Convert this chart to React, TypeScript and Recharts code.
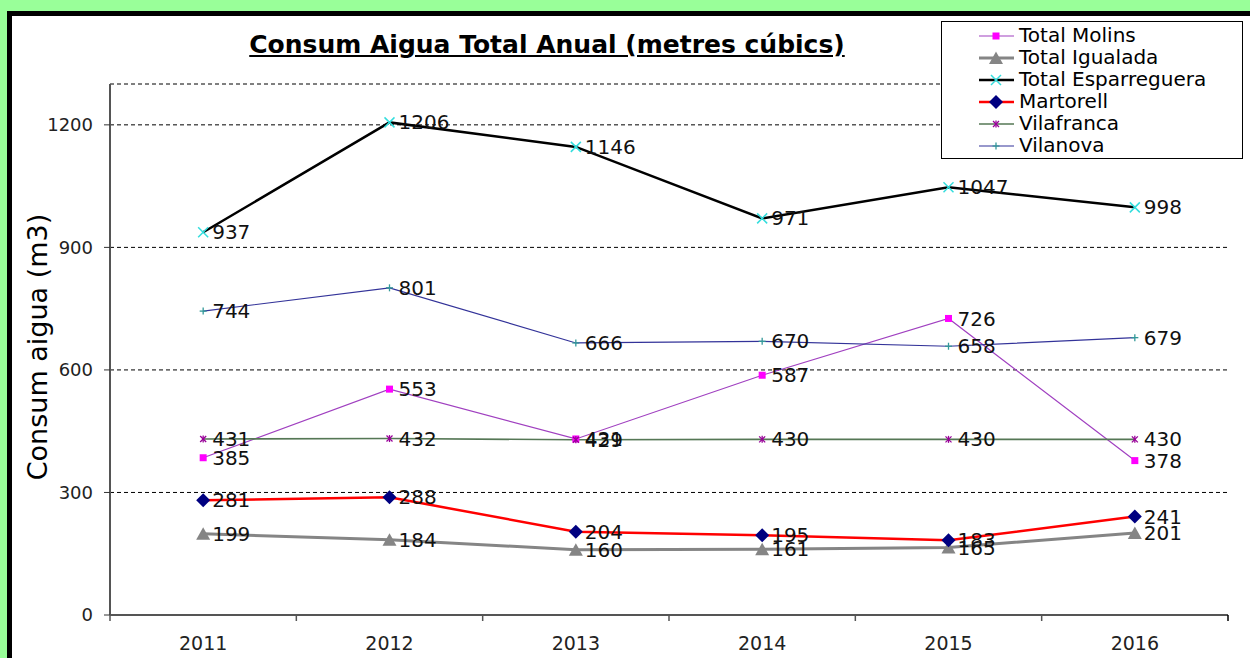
import React from "react";
import {
  LineChart, Line, XAxis, YAxis, CartesianGrid, LabelList, Legend,
} from "recharts";

const YEARS = ["2011", "2012", "2013", "2014", "2015", "2016"];
const MOLINS = [385, 553, 431, 587, 726, 378];
const IGUALADA = [199, 184, 160, 161, 165, 201];
const ESPARREGUERA = [937, 1206, 1146, 971, 1047, 998];
const MARTORELL = [281, 288, 204, 195, 183, 241];
const VILAFRANCA = [431, 432, 429, 430, 430, 430];
const VILANOVA = [744, 801, 666, 670, 658, 679];
const Y_TICKS = [0, 300, 600, 900, 1200];

const FONT = "'DejaVu Sans', Verdana, sans-serif";

// plot box in page pixels
const PLOT_L = 110;
const PLOT_R = 1228;
const PLOT_T = 84;
const PLOT_B = 615;
const BAND = (PLOT_R - PLOT_L) / YEARS.length;

type MarkerKind = "square" | "triangle" | "cross" | "diamond" | "star" | "plus";

const SERIES: { key: string; name: string; values: number[]; color: string; width: number; marker: MarkerKind; markerColor: string }[] = [
  { key: "molins", name: "Total Molins", values: MOLINS, color: "#A040C0", width: 1.2, marker: "square", markerColor: "#FF00FF" },
  { key: "igualada", name: "Total Igualada", values: IGUALADA, color: "#858585", width: 3, marker: "triangle", markerColor: "#858585" },
  { key: "esparreguera", name: "Total Esparreguera", values: ESPARREGUERA, color: "#000000", width: 2.5, marker: "cross", markerColor: "#33DDDD" },
  { key: "martorell", name: "Martorell", values: MARTORELL, color: "#FF0000", width: 2.5, marker: "diamond", markerColor: "#000080" },
  { key: "vilafranca", name: "Vilafranca", values: VILAFRANCA, color: "#557755", width: 1.6, marker: "star", markerColor: "#990099" },
  { key: "vilanova", name: "Vilanova", values: VILANOVA, color: "#333399", width: 1.2, marker: "plus", markerColor: "#339999" },
];

const data = YEARS.map((year, i) => {
  const row: Record<string, any> = { year };
  SERIES.forEach((s) => { row[s.key] = s.values[i]; });
  return row;
});

function Marker({ kind, cx, cy, color }: { kind: MarkerKind; cx: number; cy: number; color: string }) {
  if (cx == null || cy == null) return null;
  switch (kind) {
    case "square":
      return <rect x={cx - 3.5} y={cy - 3.5} width={7} height={7} fill={color} />;
    case "triangle":
      return <polygon points={`${cx},${cy - 6.5} ${cx + 7},${cy + 6} ${cx - 7},${cy + 6}`} fill={color} />;
    case "cross":
      return (
        <g stroke={color} strokeWidth={1.5}>
          <line x1={cx - 5} y1={cy - 5} x2={cx + 5} y2={cy + 5} />
          <line x1={cx - 5} y1={cy + 5} x2={cx + 5} y2={cy - 5} />
        </g>
      );
    case "diamond":
      return <polygon points={`${cx},${cy - 7} ${cx + 7},${cy} ${cx},${cy + 7} ${cx - 7},${cy}`} fill={color} />;
    case "star":
      return (
        <g stroke={color} strokeWidth={1.3}>
          <line x1={cx - 3} y1={cy - 3} x2={cx + 3} y2={cy + 3} />
          <line x1={cx - 3} y1={cy + 3} x2={cx + 3} y2={cy - 3} />
          <line x1={cx} y1={cy - 3.5} x2={cx} y2={cy + 3.5} />
        </g>
      );
    case "plus":
      return (
        <g stroke={color} strokeWidth={1.3}>
          <line x1={cx - 3.5} y1={cy} x2={cx + 3.5} y2={cy} />
          <line x1={cx} y1={cy - 3.5} x2={cx} y2={cy + 3.5} />
        </g>
      );
  }
  return null;
}

const XTick = ({ x, y, payload, index }: any) => (
  <g>
    <line x1={x - BAND / 2} x2={x - BAND / 2} y1={y} y2={y + 6} stroke="#555" strokeWidth={1.5} />
    {index === YEARS.length - 1 && (
      <line x1={x + BAND / 2} x2={x + BAND / 2} y1={y} y2={y + 6} stroke="#000" strokeWidth={1.5} />
    )}
    <text x={x} y={y + 35} textAnchor="middle" fontSize={19} fill="#222" fontFamily={FONT}>
      {payload.value}
    </text>
  </g>
);

const LegendBox = () => (
  <div
    style={{
      width: 300, height: 136, border: "1px solid #000", background: "#fff",
      fontFamily: FONT, fontSize: 20, color: "#000",
    }}
  >
    {SERIES.map((s, i) => (
      <div key={s.key} style={{ position: "relative", height: 22, marginTop: i === 0 ? 3 : 0 }}>
        <svg width={40} height={22} style={{ position: "absolute", left: 35, top: 0 }}>
          <line x1={2} x2={37} y1={11} y2={11} stroke={s.color} strokeWidth={s.width} />
          <Marker kind={s.marker} cx={19} cy={11} color={s.markerColor} />
        </svg>
        <span style={{ position: "absolute", left: 77, top: -1, lineHeight: "22px", whiteSpace: "nowrap" }}>{s.name}</span>
      </div>
    ))}
  </div>
);

export default function App() {
  return (
    <div style={{ position: "fixed", left: 0, top: 0, width: 1250, height: 658, background: "#99FF99", overflow: "hidden" }}>
      <div
        style={{
          position: "absolute", left: 7, top: 11, width: 1300, height: 700,
          border: "5px solid #000", background: "#fff",
        }}
      />
      <div
        style={{
          position: "absolute", left: 0, width: 1094, top: 30, textAlign: "center",
          fontFamily: FONT, fontWeight: "bold", fontSize: 25, lineHeight: "30px",
          textDecoration: "underline", color: "#000",
        }}
      >
        Consum Aigua Total Anual (metres cúbics)
      </div>
      <div
        style={{
          position: "absolute", left: 37, top: 347, transform: "translate(-50%, -50%) rotate(-90deg)",
          fontFamily: FONT, fontSize: 27, color: "#000", whiteSpace: "nowrap",
        }}
      >
        Consum aigua (m3)
      </div>
      <div style={{ position: "absolute", left: 0, top: 0 }}>
        <LineChart
          width={1250}
          height={658}
          data={data}
          margin={{ top: PLOT_T, left: PLOT_L - 60, right: 1250 - PLOT_R, bottom: 658 - PLOT_B - 40 }}
        >
          <CartesianGrid vertical={false} stroke="#000" strokeDasharray="4 3" />
          <XAxis
            dataKey="year"
            height={40}
            tickLine={false}
            tickSize={0}
            tickMargin={0}
            padding={{ left: BAND / 2, right: BAND / 2 }}
            axisLine={{ stroke: "#555", strokeWidth: 2 }}
            tick={<XTick />}
            interval={0}
          />
          <XAxis
            xAxisId="top"
            dataKey="year"
            orientation="top"
            height={0}
            padding={{ left: BAND / 2, right: BAND / 2 }}
            tick={false}
            tickLine={false}
            axisLine={{ stroke: "#000", strokeWidth: 1 }}
          />
          <YAxis
            width={60}
            domain={[0, 1300]}
            ticks={Y_TICKS}
            interval={0}
            tickSize={6}
            tickMargin={11}
            tick={{ fontSize: 18, fill: "#222", fontFamily: FONT }}
            tickLine={{ stroke: "#333" }}
            axisLine={{ stroke: "#555", strokeWidth: 2 }}
          />
          <YAxis yAxisId="right" orientation="right" width={0} domain={[0, 1300]} tick={false} tickLine={false} axisLine={{ stroke: "#000", strokeWidth: 1.5 }} />
          {SERIES.map((s) => (
            <Line
              key={s.key}
              dataKey={s.key}
              name={s.name}
              type="linear"
              stroke={s.color}
              strokeWidth={s.width}
              isAnimationActive={false}
              activeDot={false}
              dot={(p: any) => <Marker key={`${s.key}-${p.index}`} kind={s.marker} cx={p.cx} cy={p.cy} color={s.markerColor} />}
            >
              <LabelList dataKey={s.key} position="right" offset={9} fontSize={20} fill="#111" fontFamily={FONT} />
            </Line>
          ))}
          <Legend
            layout="vertical"
            align="center"
            verticalAlign="middle"
            wrapperStyle={{ left: 941, top: 21, width: 302, height: 138 }}
            content={() => <LegendBox />}
          />
        </LineChart>
      </div>
    </div>
  );
}
